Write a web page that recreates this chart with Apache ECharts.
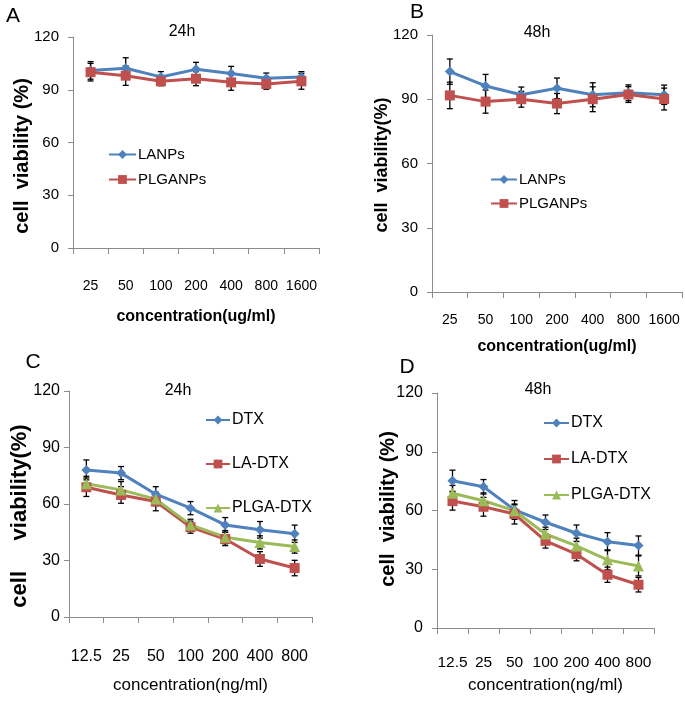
<!DOCTYPE html>
<html><head><meta charset="utf-8">
<script src="https://cdn.jsdelivr.net/npm/echarts@6/dist/echarts.min.js"></script>
<style>html,body{margin:0;padding:0;background:#fff}#c{width:685px;height:703px}</style>
</head><body><div id="c"></div>
<script>
// ---------- data ----------
const concUg = ['25','50','100','200','400','800','1600'];
const concNg = ['12.5','25','50','100','200','400','800'];
const yTicks = [0, 30, 60, 90, 120];

// Panel A (24h, nanoparticles)
const lanpsA      = [101, 102.2, 97.3, 101.6, 99.3, 96.5, 97.3];
const lanpsAErr   = [5, 6, 3, 4, 4, 3, 3];
const plganpsA    = [100, 98, 94.8, 96.3, 94.2, 93.3, 94.8];
const plganpsAErr = [5, 5.5, 2.5, 4, 4.5, 3, 4.5];
// Panel B (48h, nanoparticles)
const lanpsB      = [102.9, 96.2, 92.1, 95.1, 92.1, 93, 92.1];
const lanpsBErr   = [5.9, 5.4, 3.6, 4.8, 5.6, 3.7, 4.5];
const plganpsB    = [91.8, 88.9, 90, 88, 90, 92.2, 90.1];
const plganpsBErr = [6.2, 5.4, 3.7, 4.7, 5.8, 3.7, 5.1];
// Panel C (24h, drug)
const dtxC        = [78.1, 76.4, 65.2, 57.8, 48.9, 46.3, 44.2];
const dtxCErr     = [5.3, 3.5, 4, 3.5, 3.9, 4.4, 4.6];
const laDtxC      = [68.9, 64.8, 61.3, 47.7, 41.4, 30.8, 26];
const laDtxCErr   = [4.9, 4.4, 4.9, 3.2, 3.5, 3.9, 4.1];
const plgaDtxC    = [70.7, 67.5, 62.6, 48.9, 42.4, 39.6, 37.4];
const plgaDtxCErr = [4, 4.4, 3.5, 3, 3.5, 3.5, 3.5];
// Panel D (48h, drug)
const dtxD        = [75.2, 72.1, 60.3, 54, 48.4, 44.1, 42.1];
const dtxDErr     = [5.4, 3.7, 4.8, 3.7, 4.2, 4.6, 4.9];
const laDtxD      = [64.8, 61.9, 58.2, 44.5, 37.7, 27.2, 22.1];
const laDtxDErr   = [4.6, 4.8, 5.1, 3.7, 3.4, 3.9, 3.7];
const plgaDtxD    = [68.8, 65, 59.9, 48, 41.9, 34.8, 31.7];
const plgaDtxDErr = [4, 4, 3, 3.5, 4, 5.1, 5.1];

// ---------- styling ----------
const BLUE = '#4F81BD', RED = '#C0504D', GREEN = '#9BBB59';
const AX = '#8C8C8C';
const F1 = '"Liberation Sans", Arial, sans-serif';

const panels = [
  {grid:{left:73, top:37, width:246, height:211}, cats:concUg, tick:14, ytick:15, lm:31, ym:14,
   xName:'concentration(ug/ml)', xNameSize:16, xNameBold:'bold', xGap:61},
  {grid:{left:432, top:35, width:250, height:257}, cats:concUg, tick:14, ytick:15, lm:21, ym:14,
   xName:'concentration(ug/ml)', xNameSize:16, xNameBold:'bold', xGap:47},
  {grid:{left:69, top:391, width:243, height:226}, cats:concNg, tick:16, ytick:16, lm:32, ym:9,
   xName:'concentration(ng/ml)', xNameSize:17, xNameBold:'normal', xGap:60},
  {grid:{left:437, top:393, width:217, height:235}, cats:concNg, tick:15.5, ytick:16, lm:27, ym:14,
   xName:'concentration(ng/ml)', xNameSize:17, xNameBold:'normal', xGap:49}
];

const xAxes = panels.map((p, i) => ({
  type:'category', gridIndex:i, data:p.cats, boundaryGap:true,
  axisLine:{lineStyle:{color:AX, width:1}},
  axisTick:{show:true, length:6, lineStyle:{color:AX}},
  axisLabel:{color:'#000', fontSize:p.tick, fontFamily:F1, margin:p.lm, interval:0},
  name:p.xName, nameLocation:'middle', nameGap:p.xGap,
  nameTextStyle:{color:'#000', fontSize:p.xNameSize, fontWeight:p.xNameBold, fontFamily:F1}
}));
const yAxes = panels.map((p, i) => ({
  type:'value', gridIndex:i, min:yTicks[0], max:yTicks[yTicks.length-1], interval:yTicks[1]-yTicks[0],
  splitLine:{show:false},
  axisLine:{show:true, lineStyle:{color:AX, width:1}},
  axisTick:{show:true, length:5, lineStyle:{color:AX}},
  axisLabel:{color:'#000', fontSize:p.ytick, fontFamily:F1, margin:p.ym}
}));

function errRender(params, api) {
  const x = api.value(0), v = api.value(1), e = api.value(2);
  const hi = api.coord([x, v + e]);
  const lo = api.coord([x, v - e]);
  const w = 3;
  const st = {stroke:'#000', lineWidth:1.3};
  return {type:'group', children:[
    {type:'line', shape:{x1:hi[0], y1:hi[1], x2:lo[0], y2:lo[1]}, style:st},
    {type:'line', shape:{x1:hi[0]-w, y1:hi[1], x2:hi[0]+w, y2:hi[1]}, style:st},
    {type:'line', shape:{x1:lo[0]-w, y1:lo[1], x2:lo[0]+w, y2:lo[1]}, style:st}
  ]};
}

const series = [];
function addSeries(name, gi, cats, vals, errs, color, symbol, size) {
  series.push({
    type:'custom', xAxisIndex:gi, yAxisIndex:gi, z:1, silent:true,
    renderItem:errRender, encode:{x:0, y:1},
    data: cats.map((c, k) => [k, vals[k], errs[k]])
  });
  series.push({
    type:'line', name:name, xAxisIndex:gi, yAxisIndex:gi, z:3,
    data:vals, symbol:symbol, symbolSize:size, showSymbol:true,
    lineStyle:{color:color, width:3}, itemStyle:{color:color},
    animation:false
  });
}
addSeries('LANPs', 0, concUg, lanpsA, lanpsAErr, BLUE, 'diamond', 10);
addSeries('PLGANPs', 0, concUg, plganpsA, plganpsAErr, RED, 'rect', 10);
addSeries('LANPs', 1, concUg, lanpsB, lanpsBErr, BLUE, 'diamond', 10);
addSeries('PLGANPs', 1, concUg, plganpsB, plganpsBErr, RED, 'rect', 10);
addSeries('DTX', 2, concNg, dtxC, dtxCErr, BLUE, 'diamond', 10);
addSeries('LA-DTX', 2, concNg, laDtxC, laDtxCErr, RED, 'rect', 10);
addSeries('PLGA-DTX', 2, concNg, plgaDtxC, plgaDtxCErr, GREEN, 'triangle', 11);
addSeries('DTX', 3, concNg, dtxD, dtxDErr, BLUE, 'diamond', 10);
addSeries('LA-DTX', 3, concNg, laDtxD, laDtxDErr, RED, 'rect', 10);
addSeries('PLGA-DTX', 3, concNg, plgaDtxD, plgaDtxDErr, GREEN, 'triangle', 11);

const legends = [
  {data:['LANPs','PLGANPs'], left:108, top:147, itemGap:10, itemWidth:27, size:15},
  {data:['LANPs','PLGANPs'], left:490, top:172, itemGap:9, itemWidth:26, size:15},
  {data:['DTX','LA-DTX','PLGA-DTX'], left:205, top:412, itemGap:28, itemWidth:24, size:16},
  {data:['DTX','LA-DTX','PLGA-DTX'], left:543, top:415, itemGap:20, itemWidth:25, size:16}
].map(l => ({
  orient:'vertical', left:l.left, top:l.top, itemGap:l.itemGap, itemWidth:l.itemWidth, itemHeight:11,
  padding:0, selectedMode:false, data:l.data,
  textStyle:{color:'#000', fontSize:l.size, fontFamily:F1, padding:[0,0,0,-3]}
}));

const labels = [
  {t:'A', x:13, y:16, s:21, w:'normal', r:0}, {t:'B', x:417, y:12, s:21, w:'normal', r:0},
  {t:'C', x:33, y:362, s:21, w:'normal', r:0}, {t:'D', x:407, y:367, s:21, w:'normal', r:0},
  {t:'24h', x:182, y:32, s:16, w:'normal', r:0}, {t:'48h', x:537, y:33, s:16, w:'normal', r:0},
  {t:'24h', x:178, y:391, s:16, w:'normal', r:0}, {t:'48h', x:538, y:390, s:16, w:'normal', r:0},
  {t:'cell  viability (%)', x:22, y:156, s:20, w:'bold', r:Math.PI/2},
  {t:'cell  viability(%)', x:382, y:165, s:18, w:'bold', r:Math.PI/2},
  {t:'cell     viability(%)', x:20, y:516, s:22, w:'bold', r:Math.PI/2},
  {t:'cell  viability (%)', x:388, y:509, s:20, w:'bold', r:Math.PI/2}
];

const chart = echarts.init(document.getElementById('c'), null, {renderer:'canvas'});
chart.setOption({
  animation:false,
  backgroundColor:'#fff',
  grid: panels.map(p => p.grid),
  xAxis: xAxes,
  yAxis: yAxes,
  legend: legends,
  series: series,
  graphic: labels.map(l => ({
    type:'text', x:l.x, y:l.y, rotation:l.r,
    style:{text:l.t, fill:'#000', font:l.w + ' ' + l.s + 'px ' + F1, textAlign:'center', textVerticalAlign:'middle'}
  }))
});
</script>
</body></html>
